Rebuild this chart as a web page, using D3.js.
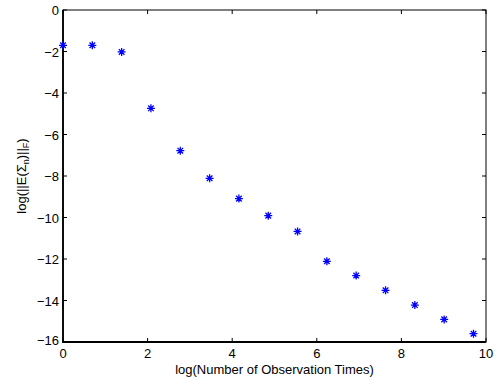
<!DOCTYPE html>
<html>
<head>
<meta charset="utf-8">
<script src="https://cdn.jsdelivr.net/npm/d3@7"></script>
<style>
  body { margin: 0; background: #fff; }
  text { font-family: "Liberation Sans", Arial, sans-serif; }
</style>
</head>
<body>
<div id="chart"></div>
<script>
// log(number of observation times) and log of the Frobenius norm
var logTimes = [0, 0.693, 1.386, 2.079, 2.773, 3.466, 4.159, 4.852, 5.545, 6.238, 6.931, 7.625, 8.318, 9.011, 9.704];
var logNorm = [-1.70, -1.70, -2.02, -4.74, -6.78, -8.11, -9.09, -9.91, -10.67, -12.11, -12.80, -13.51, -14.22, -14.91, -15.60];
var xTicks = [0, 2, 4, 6, 8, 10];
var yTicks = [0, -2, -4, -6, -8, -10, -12, -14, -16];

var width = 495, height = 385;
var margin = { top: 10, right: 9, bottom: 43, left: 63 };
var fs = 13;

var svg = d3.select("#chart").append("svg").attr("width", width).attr("height", height);

var x = d3.scaleLinear([0, 10], [margin.left, width - margin.right]);
var y = d3.scaleLinear([-16, 0], [height - margin.bottom, margin.top]);

var tickLen = 4;
// ticks pointing inward on all four sides
var g = svg.append("g").attr("stroke", "#000").attr("stroke-width", 1);
g.selectAll("line.xb").data(xTicks).join("line")
  .attr("x1", function (d) { return x(d); }).attr("x2", function (d) { return x(d); })
  .attr("y1", y(-16)).attr("y2", y(-16) - tickLen);
g.selectAll("line.xt").data(xTicks).join("line")
  .attr("x1", function (d) { return x(d); }).attr("x2", function (d) { return x(d); })
  .attr("y1", y(0)).attr("y2", y(0) + tickLen);
g.selectAll("line.yl").data(yTicks).join("line")
  .attr("x1", x(0)).attr("x2", x(0) + tickLen)
  .attr("y1", function (d) { return y(d); }).attr("y2", function (d) { return y(d); });
g.selectAll("line.yr").data(yTicks).join("line")
  .attr("x1", x(10)).attr("x2", x(10) - tickLen)
  .attr("y1", function (d) { return y(d); }).attr("y2", function (d) { return y(d); });

// box
svg.append("rect")
  .attr("x", x(0)).attr("y", y(0))
  .attr("width", x(10) - x(0)).attr("height", y(-16) - y(0))
  .attr("fill", "none").attr("stroke", "#000").attr("stroke-width", 1);
svg.append("path")
  .attr("d", "M" + x(0) + "," + y(0) + "V" + y(-16) + "H" + x(10))
  .attr("fill", "none").attr("stroke", "#000").attr("stroke-width", 1.8);

// tick labels
svg.append("g").attr("font-size", fs).attr("text-anchor", "middle")
  .selectAll("text").data(xTicks).join("text")
  .attr("x", function (d) { return x(d); })
  .attr("y", y(-16) + 16)
  .text(function (d) { return d; });
svg.append("g").attr("font-size", fs).attr("text-anchor", "end")
  .selectAll("text").data(yTicks).join("text")
  .attr("x", x(0) - 4)
  .attr("y", function (d) { return y(d) + (d === -16 ? 3 : 5); })
  .text(function (d) { return d === 0 ? "0" : "\u2212" + Math.abs(d); });

// axis labels
svg.append("text")
  .attr("x", (x(0) + x(10)) / 2).attr("y", height - 11)
  .attr("font-size", fs).attr("text-anchor", "middle")
  .text("log(Number of Observation Times)");

var yl = svg.append("text")
  .attr("transform", "translate(26," + ((y(0) + y(-16)) / 2) + ") rotate(-90)")
  .attr("font-size", fs).attr("text-anchor", "middle");
yl.append("tspan").text("log(||E(\u03A3");
yl.append("tspan").attr("font-size", 9).attr("dy", 3).text("n");
yl.append("tspan").attr("dy", -3).text(")||");
yl.append("tspan").attr("font-size", 9).attr("dy", 3).text("F");
yl.append("tspan").attr("dy", -3).text(")");

// asterisk markers
var r = 4;
var star = "M" + (-r) + ",0H" + r + "M0," + (-r) + "V" + r +
  "M" + (-r * 0.7) + "," + (-r * 0.7) + "L" + (r * 0.7) + "," + (r * 0.7) +
  "M" + (-r * 0.7) + "," + (r * 0.7) + "L" + (r * 0.7) + "," + (-r * 0.7);
svg.append("g").attr("stroke", "#0000ff").attr("stroke-width", 1.3).attr("fill", "none")
  .selectAll("path").data(logTimes).join("path")
  .attr("transform", function (d, i) { return "translate(" + x(d) + "," + y(logNorm[i]) + ")"; })
  .attr("d", star);
</script>
</body>
</html>
